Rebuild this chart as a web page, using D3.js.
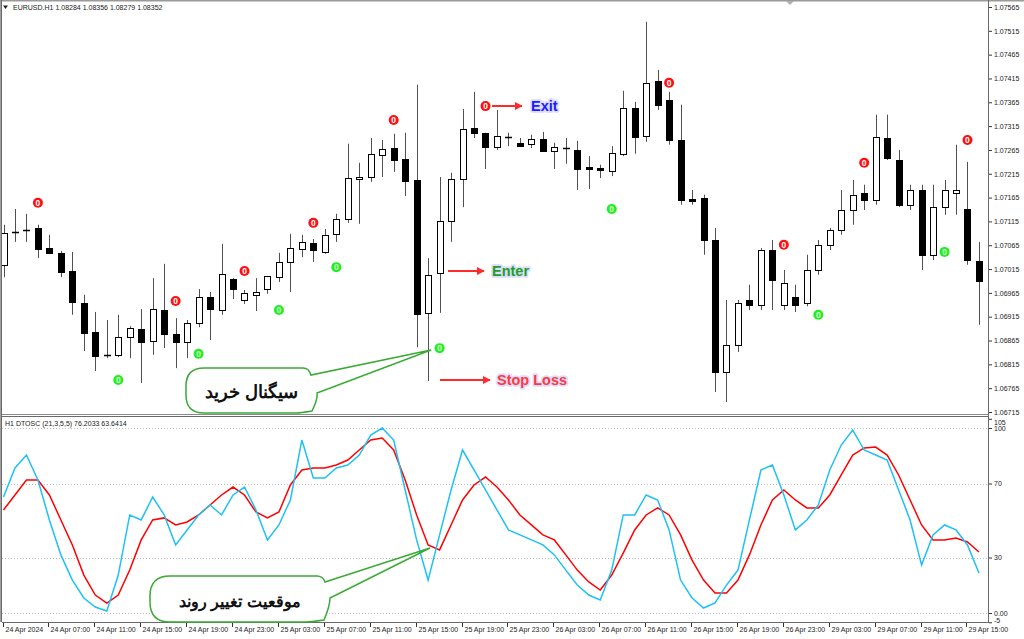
<!DOCTYPE html>
<html><head><meta charset="utf-8">
<script src="https://cdn.jsdelivr.net/npm/d3@7"></script>
<style>
body{margin:0;background:#fff}
svg{display:block}
text{font-family:"Liberation Sans",Arial,sans-serif}
</style>
</head><body>
<svg id="c" width="1024" height="639"></svg>
<script>
// ---------------- DATA ----------------
const opens  = [1.07024,1.07093,1.07097,1.07101,1.07059,1.07049,1.07011,1.06944,1.06883,1.06835,1.06835,1.06872,1.06889,1.06864,1.06929,1.06879,1.06862,1.06902,1.06956,1.06929,1.06994,1.06950,1.06961,1.06973,1.06998,1.07030,1.07057,1.07070,1.07051,1.07089,1.07120,1.07204,1.07208,1.07255,1.07269,1.07246,1.07202,1.06923,1.07007,1.07116,1.07204,1.07311,1.07301,1.07271,1.07292,1.07280,1.07278,1.07288,1.07263,1.07269,1.07265,1.07229,1.07227,1.07221,1.07257,1.07353,1.07294,1.07410,1.07370,1.07286,1.07162,1.07164,1.07076,1.06799,1.06856,1.06950,1.06940,1.07055,1.06940,1.06956,1.06944,1.07013,1.07066,1.07097,1.07139,1.07175,1.07160,1.07290,1.07244,1.07150,1.07181,1.07045,1.07145,1.07175,1.07141,1.07032];
const highs  = [1.07108,1.07141,1.07131,1.07108,1.07087,1.07053,1.07051,1.06961,1.06925,1.06908,1.06919,1.06895,1.06931,1.06996,1.07026,1.06912,1.06908,1.06973,1.06967,1.07068,1.06996,1.06971,1.06996,1.07000,1.07049,1.07089,1.07087,1.07078,1.07099,1.07131,1.07278,1.07238,1.07290,1.07286,1.07299,1.07301,1.07402,1.07038,1.07208,1.07217,1.07351,1.07387,1.07301,1.07349,1.07301,1.07290,1.07297,1.07303,1.07280,1.07290,1.07284,1.07252,1.07234,1.07273,1.07389,1.07366,1.07534,1.07433,1.07387,1.07360,1.07181,1.07171,1.07101,1.06950,1.06950,1.06982,1.07059,1.07076,1.07013,1.06982,1.07045,1.07076,1.07101,1.07181,1.07202,1.07192,1.07339,1.07339,1.07265,1.07192,1.07192,1.07192,1.07202,1.07276,1.07240,1.07072];
const lows   = [1.06998,1.07072,1.07072,1.07038,1.07047,1.06998,1.06919,1.06843,1.06801,1.06828,1.06830,1.06828,1.06776,1.06835,1.06849,1.06807,1.06828,1.06893,1.06866,1.06919,1.06952,1.06942,1.06927,1.06963,1.06988,1.06967,1.07040,1.07030,1.07047,1.07072,1.07112,1.07110,1.07198,1.07208,1.07219,1.07168,1.06851,1.06780,1.06923,1.07072,1.07145,1.07290,1.07225,1.07265,1.07273,1.07271,1.07269,1.07261,1.07225,1.07236,1.07181,1.07183,1.07206,1.07210,1.07252,1.07257,1.07282,1.07349,1.07276,1.07150,1.07150,1.07045,1.06757,1.06736,1.06841,1.06929,1.06929,1.06929,1.06929,1.06925,1.06937,1.07003,1.07055,1.07087,1.07108,1.07139,1.07150,1.07244,1.07145,1.07139,1.07013,1.07034,1.07129,1.07129,1.07024,1.06898];
const closes = [1.07091,1.07095,1.07095,1.07057,1.07049,1.07009,1.06946,1.06881,1.06832,1.06832,1.06872,1.06891,1.06862,1.06931,1.06879,1.06862,1.06902,1.06956,1.06931,1.07005,1.06973,1.06965,1.06967,1.07000,1.07030,1.07059,1.07072,1.07055,1.07087,1.07120,1.07206,1.07208,1.07257,1.07267,1.07244,1.07200,1.06921,1.07003,1.07116,1.07204,1.07309,1.07301,1.07271,1.07294,1.07290,1.07273,1.07288,1.07263,1.07271,1.07267,1.07225,1.07225,1.07223,1.07259,1.07353,1.07292,1.07406,1.07360,1.07286,1.07160,1.07158,1.07076,1.06799,1.06856,1.06944,1.06940,1.07055,1.06992,1.06986,1.06940,1.07013,1.07066,1.07097,1.07139,1.07171,1.07160,1.07292,1.07248,1.07150,1.07181,1.07045,1.07145,1.07181,1.07181,1.07034,1.06990];

const dtoscMain   = [62.7,78.4,85.4,71.9,50.3,31.4,17.8,8.1,3.2,1.1,20.5,53.0,50.3,62.7,53.0,36.8,44.9,53.0,58.4,53.0,63.8,68.1,55.7,39.5,47.6,61.1,93.5,73.0,73.0,78.4,80.0,85.4,96.2,100.0,93.5,66.5,39.5,17.8,42.2,66.5,88.1,77.3,66.5,55.7,44.9,42.2,39.5,36.8,31.4,23.2,15.1,9.7,7.0,23.2,53.0,53.0,63.8,61.1,44.9,17.8,8.1,2.7,5.4,15.1,23.2,50.3,77.3,80.0,63.8,44.9,50.3,58.4,77.3,90.8,98.9,88.1,85.4,82.7,66.5,50.3,25.9,42.2,47.6,44.9,36.8,21.6];
const dtoscSignal = [55.7,63.8,71.9,71.9,63.8,50.3,36.8,20.5,9.7,5.4,9.7,23.2,39.5,50.3,51.4,47.6,49.2,53.0,58.4,63.8,68.1,63.8,54.6,51.4,54.6,69.2,77.3,78.4,78.4,80.0,82.7,88.1,93.5,94.6,88.1,71.9,53.0,36.8,34.1,47.6,61.1,69.2,73.5,68.1,61.1,53.0,47.6,42.2,39.5,31.4,23.2,16.8,12.4,20.5,32.4,44.9,53.0,56.8,53.0,42.2,28.6,17.8,10.8,10.8,17.8,31.4,47.6,61.1,66.5,61.1,56.8,56.8,63.8,74.6,85.4,89.2,89.7,85.4,74.6,61.1,47.6,39.5,39.5,40.5,38.4,33.0];

const priceTicks = [1.07565,1.07515,1.07465,1.07415,1.07365,1.07315,1.07265,1.07215,1.07165,1.07115,1.07065,1.07015,1.06965,1.06915,1.06865,1.06815,1.06765,1.06715];
const oscTickValues = [105,100,70,30,0,-5];
const oscTickLabels = ["105","100","70","30","0.00","-5"];
const oscGridLevels = [100,70,30,0];
const timeTickIndex = [0,4,8,12,16,20,24,28,32,36,40,44,48,52,56,60,64,68,72,76,80,84];
const timeLabels = ["24 Apr 2024","24 Apr 07:00","24 Apr 11:00","24 Apr 15:00","24 Apr 19:00","24 Apr 23:00","25 Apr 03:00","25 Apr 07:00","25 Apr 11:00","25 Apr 15:00","25 Apr 19:00","25 Apr 23:00","26 Apr 03:00","26 Apr 07:00","26 Apr 11:00","26 Apr 15:00","26 Apr 19:00","26 Apr 23:00","29 Apr 03:00","29 Apr 07:00","29 Apr 11:00","29 Apr 15:00"];

const sellSignalIndex = [3,15,21,27,34,42,58,68,75,84];
const sellSignalLevel = [1.07154,1.06948,1.07011,1.07112,1.07328,1.07357,1.07406,1.07066,1.07238,1.07286];
const buySignalIndex  = [10,17,24,29,38,53,71,82];
const buySignalLevel  = [1.06782,1.06837,1.06929,1.07019,1.06849,1.07141,1.06919,1.07051];

const chartTitle = "EURUSD.H1  1.08284 1.08356 1.08279 1.08352";
const oscTitle = "H1 DTOSC (21,3,5,5) 76.2033 63.6414";

// ---------------- LAYOUT ----------------
const W = 1024, H = 639;
const plotL = 2, plotR = 988;
const topT = 2, topB = 414;
const oscT = 418, oscB = 622;

const svg = d3.select("#c");
svg.append("rect").attr("width",W).attr("height",H).attr("fill","#fff");

const n = opens.length;
const x = d3.scaleLinear().domain([0, n-1]).range([3.5, 3.5 + 11.476*(n-1)]);
const yP = d3.scaleLinear().domain([1.06715, 1.07565]).range([412, 7]);
const yO = d3.scaleLinear().domain([-5, 105]).range([622.25, 418.75]);

const defs = svg.append("defs");
defs.append("clipPath").attr("id","clipTop").append("rect")
  .attr("x",plotL).attr("y",topT).attr("width",plotR-plotL).attr("height",topB-topT);
defs.append("clipPath").attr("id","clipOsc").append("rect")
  .attr("x",plotL).attr("y",oscT).attr("width",plotR-plotL).attr("height",oscB-oscT);
defs.append("marker").attr("id","arr").attr("viewBox","0 0 10 10").attr("refX",9).attr("refY",5)
  .attr("markerWidth",4).attr("markerHeight",4).attr("orient","auto")
  .append("path").attr("d","M0,0 L10,5 L0,10 z").attr("fill","#ff2a2a");

// frame
svg.append("rect").attr("x",0).attr("y",0).attr("width",W).attr("height",1.5).attr("fill","#9a9a9a");
svg.append("line").attr("x1",0.5).attr("x2",0.5).attr("y1",0).attr("y2",oscB).attr("stroke","#a0a0a0");
svg.append("line").attr("x1",1.5).attr("x2",1.5).attr("y1",0).attr("y2",oscB).attr("stroke","#6a6a6a");
svg.append("line").attr("x1",plotR+0.5).attr("x2",plotR+0.5).attr("y1",0).attr("y2",oscB+1).attr("stroke","#6a6a6a");
svg.append("line").attr("x1",plotL).attr("x2",plotR).attr("y1",topB+0.5).attr("y2",topB+0.5).attr("stroke","#8a8a8a");
svg.append("line").attr("x1",plotL).attr("x2",plotR).attr("y1",topB+2.5).attr("y2",topB+2.5).attr("stroke","#6a6a6a");
svg.append("line").attr("x1",plotL).attr("x2",plotR).attr("y1",oscB+0.5).attr("y2",oscB+0.5).attr("stroke","#6a6a6a");
svg.append("path").attr("d","M786,1 L794,1 L790,5 Z").attr("fill","#b0b0b0");

// ---------------- CANDLES ----------------
const gC = svg.append("g").attr("clip-path","url(#clipTop)");
const idx = d3.range(n);
const snap = v => Math.round(v) + 0.5;
gC.selectAll("line.wick").data(idx).join("line").attr("class","wick")
  .attr("x1",i=>snap(x(i))).attr("x2",i=>snap(x(i)))
  .attr("y1",i=>yP(highs[i])).attr("y2",i=>yP(lows[i]))
  .attr("stroke","#505050").attr("stroke-width",1);
gC.selectAll("rect.body").data(idx.filter(i=>Math.abs(yP(opens[i])-yP(closes[i]))>=1.5)).join("rect").attr("class","body")
  .attr("x",i=>Math.round(x(i))-3+0.5)
  .attr("y",i=>Math.round(Math.min(yP(opens[i]),yP(closes[i])))+0.5)
  .attr("width",6)
  .attr("height",i=>Math.max(1,Math.round(Math.abs(yP(opens[i])-yP(closes[i])))))
  .attr("fill",i=>closes[i]>=opens[i]?"#fff":"#000")
  .attr("stroke","#000").attr("stroke-width",1);
gC.selectAll("line.doji").data(idx.filter(i=>Math.abs(yP(opens[i])-yP(closes[i]))<1.5)).join("line").attr("class","doji")
  .attr("x1",i=>Math.round(x(i))-3).attr("x2",i=>Math.round(x(i))+4)
  .attr("y1",i=>snap(yP(opens[i]))).attr("y2",i=>snap(yP(opens[i])))
  .attr("stroke","#000").attr("stroke-width",1.5);

function drawMarkers(ix, lv, fill, txt){
  const g = gC.append("g");
  const m = g.selectAll("g").data(ix.map((d,k)=>[d,lv[k]])).join("g")
    .attr("transform",d=>`translate(${x(d[0])},${yP(d[1])})`);
  m.append("circle").attr("r",5).attr("fill",fill);
  m.append("text").attr("text-anchor","middle").attr("dy",3)
    .attr("font-size",8.5).attr("font-weight","bold").attr("fill",txt).text("0");
}
drawMarkers(sellSignalIndex, sellSignalLevel, "#ff1010", "#ffffff");
drawMarkers(buySignalIndex, buySignalLevel, "#22ee22", "#d8ffd0");

// ---------------- PRICE AXIS ----------------
const pAxis = d3.axisRight(yP).tickValues(priceTicks).tickSize(3).tickFormat(d3.format(".5f"));
const gPA = svg.append("g").attr("transform",`translate(${plotR+1},0)`).call(pAxis);
gPA.select(".domain").remove();
gPA.selectAll("line").attr("stroke","#333");
gPA.selectAll("text").attr("x",5).attr("font-size",7).attr("fill","#222")
  .attr("font-family","'Liberation Sans',Arial,sans-serif");

svg.append("path").attr("d","M3,5.5 L8,5.5 L5.5,9 Z").attr("fill","#222");
svg.append("text").attr("x",13).attr("y",10).attr("font-size",7).attr("fill","#222").text(chartTitle);

// ---------------- ANNOTATIONS (top) ----------------
const notes = [
  {x1:492, x2:522, y:106, tx:531, text:"Exit", color:"#1a1aff"},
  {x1:448, x2:484, y:271, tx:492, text:"Enter", color:"#1f9e1f"},
  {x1:440, x2:490, y:380, tx:497, text:"Stop Loss", color:"#ff3a3a"}
];
notes.forEach(a=>{
  svg.append("line").attr("x1",a.x1).attr("x2",a.x2).attr("y1",a.y).attr("y2",a.y)
    .attr("stroke","#ff2a2a").attr("stroke-width",2).attr("marker-end","url(#arr)");
  svg.append("text").attr("x",a.tx).attr("y",a.y+5).attr("font-size",14.5).attr("font-weight","bold")
    .attr("fill",a.color).attr("stroke","#dcdcff").attr("stroke-width",3.5).attr("stroke-linejoin","round")
    .attr("paint-order","stroke").text(a.text);
});

function bubble(x0,y0,x1,y1,r,b1,b2,tip,label,ty,fs){
  const p = d3.path();
  p.moveTo(x0+r,y0);
  p.lineTo(b1[0]-8,y0);
  p.quadraticCurveTo(b1[0]-2,y0,b1[0],b1[1]);
  p.lineTo(tip[0],tip[1]);
  p.lineTo(b2[0],b2[1]);
  p.quadraticCurveTo(x1,y1-r+4,x1-6,y1-2);
  p.quadraticCurveTo(x1-r,y1,x1-r-4,y1);
  p.lineTo(x0+r,y1);
  p.quadraticCurveTo(x0,y1,x0,y1-r);
  p.lineTo(x0,y0+r);
  p.quadraticCurveTo(x0,y0,x0+r,y0);
  p.closePath();
  svg.append("path").attr("d",p.toString()).attr("fill","#fff").attr("stroke","#3aaa35").attr("stroke-width",1.5);
  svg.append("text").attr("x",(x0+x1)/2).attr("y",ty).attr("text-anchor","middle")
    .attr("font-family","'DejaVu Sans',sans-serif").attr("font-weight","bold").attr("font-size",fs)
    .attr("fill","#111").text(label);
}

// ---------------- OSCILLATOR ----------------
const gO = svg.append("g");
gO.selectAll("line.grid").data(oscGridLevels).join("line").attr("class","grid")
  .attr("x1",plotL).attr("x2",plotR).attr("y1",d=>Math.round(yO(d))+0.5).attr("y2",d=>Math.round(yO(d))+0.5)
  .attr("stroke","#b8b8c8").attr("stroke-dasharray","1,2");
const gOL = gO.append("g").attr("clip-path","url(#clipOsc)");
const line = d3.line().x((d,i)=>x(i)).y(d=>yO(d));
gOL.append("path").attr("d",line(dtoscSignal)).attr("fill","none").attr("stroke","#ff0000").attr("stroke-width",1.5);
gOL.append("path").attr("d",line(dtoscMain)).attr("fill","none").attr("stroke","#1ec0f5").attr("stroke-width",1.5);

svg.append("rect").attr("x",3).attr("y",419).attr("width",128).attr("height",9).attr("fill","#fff");
svg.append("text").attr("x",5).attr("y",426).attr("font-size",7).attr("fill","#222").text(oscTitle);

const oAxis = d3.axisRight(yO).tickValues(oscTickValues).tickSize(3).tickFormat((d,i)=>oscTickLabels[i]);
const gOA = svg.append("g").attr("transform",`translate(${plotR+1},0)`).call(oAxis);
gOA.select(".domain").remove();
gOA.selectAll("line").attr("stroke","#333");
gOA.selectAll("text").attr("x",5).attr("font-size",7).attr("fill","#222")
  .attr("font-family","'Liberation Sans',Arial,sans-serif");
gOA.selectAll(".tick").filter(d=>d===105).select("text").attr("dy","0.85em");
gOA.selectAll(".tick").filter(d=>d===-5).select("text").attr("dy","0.1em");

// ---------------- TIME AXIS ----------------
const tAxis = d3.axisBottom(x).tickValues(timeTickIndex).tickSize(4).tickFormat((d,i)=>timeLabels[i]);
const gTA = svg.append("g").attr("transform",`translate(0,${oscB+1})`).call(tAxis);
gTA.select(".domain").remove();
gTA.selectAll(".tick").attr("transform",d=>`translate(${Math.round(x(d))-0.5},0)`);
gTA.selectAll("line").attr("stroke","#333");
gTA.selectAll("text").attr("text-anchor","start").attr("x",2).attr("y",4).attr("dy","0.71em")
  .attr("font-size",7).attr("fill","#222").attr("font-family","'Liberation Sans',Arial,sans-serif");

bubble(186,368,318,413,18,[311,375],[317,393],[431,350],"سیگنال خرید",398,18);
bubble(150,576,330,622,20,[325,582],[330,598],[430,548],"موقعیت تغییر روند",607,16);
</script>
</body></html>
